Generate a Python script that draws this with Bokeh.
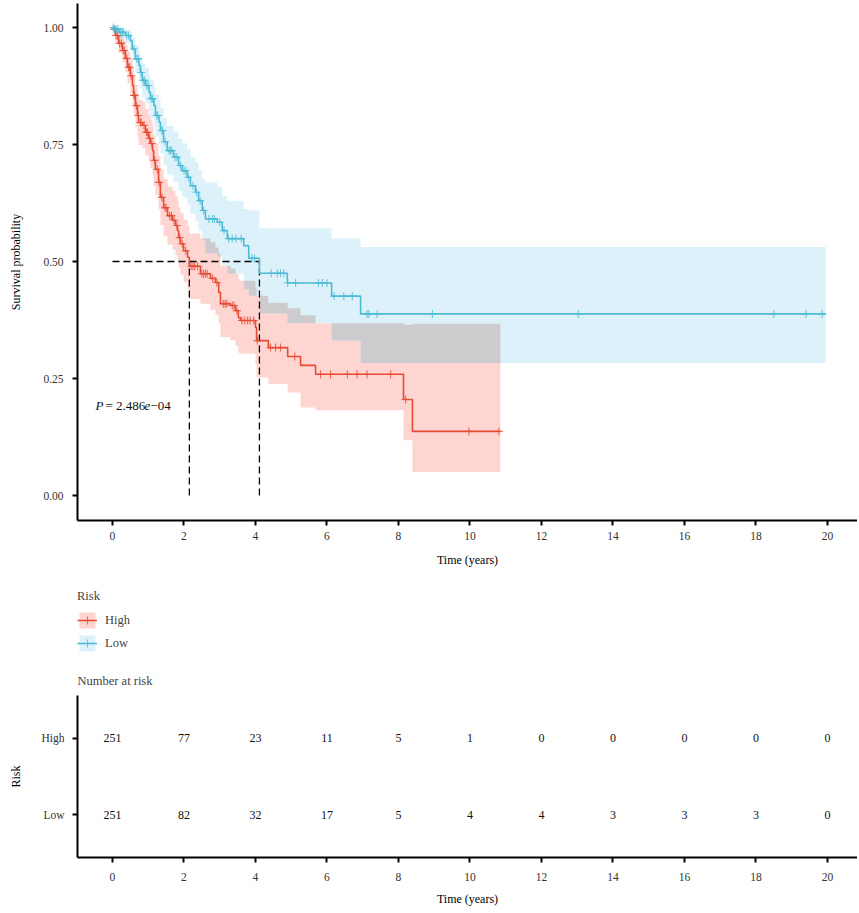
import numpy as np
from bokeh.plotting import figure
from bokeh.models import (Range1d, FactorRange, FixedTicker, PrintfTickFormatter,
                          Legend, LegendItem)
from bokeh.layouts import column
from bokeh.embed import file_html
from bokeh.resources import INLINE
from bokeh.core.properties import value

FONT = "Liberation Serif"

# ---------------- data ----------------
high_time = [0.00, 0.03, 0.08, 0.17, 0.28, 0.36, 0.42, 0.50, 0.56, 0.59, 0.64, 0.70, 0.73, 0.84,
             0.92, 1.01, 1.06, 1.12, 1.15, 1.20, 1.29, 1.34, 1.43, 1.54, 1.68, 1.76, 1.82, 1.85,
             1.90, 1.99, 2.10, 2.15, 2.46, 2.74, 2.88, 2.97, 3.02, 3.30, 3.44, 3.52, 3.58, 4.00,
             4.03, 4.36, 4.90, 5.26, 5.68, 8.14, 8.39]
high_surv = [1.000, 0.996, 0.983, 0.966, 0.951, 0.934, 0.915, 0.897, 0.876, 0.855, 0.833, 0.812,
             0.797, 0.791, 0.776, 0.763, 0.752, 0.737, 0.716, 0.697, 0.669, 0.637, 0.615, 0.598,
             0.588, 0.577, 0.566, 0.551, 0.538, 0.523, 0.509, 0.490, 0.474, 0.464, 0.455, 0.434,
             0.410, 0.406, 0.395, 0.380, 0.374, 0.359, 0.331, 0.316, 0.297, 0.278, 0.259, 0.205,
             0.137]
high_upper = [1.000, 1.000, 0.998, 0.987, 0.976, 0.963, 0.948, 0.934, 0.916, 0.898, 0.878, 0.859,
              0.845, 0.840, 0.826, 0.814, 0.804, 0.790, 0.770, 0.752, 0.726, 0.696, 0.676, 0.660,
              0.651, 0.640, 0.630, 0.616, 0.604, 0.590, 0.577, 0.560, 0.549, 0.541, 0.530, 0.517,
              0.491, 0.485, 0.474, 0.462, 0.459, 0.445, 0.427, 0.412, 0.400, 0.385, 0.368, 0.365,
              0.367]
high_lower = [1.000, 0.988, 0.968, 0.945, 0.926, 0.905, 0.882, 0.860, 0.836, 0.812, 0.788, 0.765,
              0.749, 0.742, 0.726, 0.712, 0.700, 0.684, 0.662, 0.642, 0.612, 0.578, 0.554, 0.536,
              0.525, 0.514, 0.502, 0.486, 0.472, 0.456, 0.441, 0.420, 0.410, 0.396, 0.385, 0.368,
              0.338, 0.332, 0.320, 0.305, 0.303, 0.280, 0.252, 0.238, 0.220, 0.188, 0.182, 0.118,
              0.050]
high_end = 10.85
high_censor = [0.05, 0.10, 0.14, 0.20, 0.25, 0.30, 0.33, 0.40, 0.45, 0.48, 0.52, 0.60, 0.62, 0.67,
               0.72, 0.78, 0.80, 0.88, 0.95, 0.98, 1.04, 1.10, 1.18, 1.25, 1.30, 1.38, 1.47, 1.50,
               1.60, 1.65, 1.72, 1.80, 1.88, 1.95, 2.05, 2.20, 2.25, 2.30, 2.38, 2.50, 2.55, 2.60,
               2.65, 2.80, 2.92, 3.10, 3.15, 3.20, 3.35, 3.40, 3.48, 3.62, 3.70, 3.78, 3.85, 3.95,
               4.05, 4.42, 4.56, 4.70, 5.10, 5.82, 6.10, 6.57, 6.84, 7.12, 7.78, 8.20, 9.97, 10.81]

low_time = [0.00, 0.04, 0.18, 0.36, 0.50, 0.55, 0.64, 0.74, 0.78, 0.83, 0.92, 1.02, 1.06, 1.16,
            1.20, 1.30, 1.34, 1.43, 1.53, 1.71, 1.85, 1.95, 2.09, 2.18, 2.32, 2.41, 2.51, 2.60,
            2.93, 3.07, 3.21, 3.67, 3.81, 4.11, 4.89, 6.13, 6.94]
low_surv = [1.000, 0.997, 0.990, 0.983, 0.972, 0.954, 0.933, 0.919, 0.904, 0.887, 0.876, 0.862,
            0.848, 0.833, 0.812, 0.798, 0.780, 0.756, 0.737, 0.723, 0.705, 0.694, 0.680, 0.662,
            0.648, 0.630, 0.609, 0.591, 0.584, 0.566, 0.549, 0.534, 0.507, 0.475, 0.454, 0.426,
            0.388]
low_upper = [1.000, 1.000, 1.000, 0.996, 0.990, 0.978, 0.962, 0.950, 0.937, 0.923, 0.913, 0.901,
             0.889, 0.876, 0.857, 0.845, 0.828, 0.807, 0.790, 0.778, 0.762, 0.752, 0.740, 0.724,
             0.712, 0.695, 0.676, 0.669, 0.660, 0.640, 0.630, 0.612, 0.609, 0.571, 0.571, 0.549,
             0.531]
low_lower = [1.000, 0.990, 0.977, 0.966, 0.951, 0.930, 0.904, 0.888, 0.870, 0.851, 0.838, 0.822,
             0.806, 0.790, 0.767, 0.751, 0.732, 0.706, 0.686, 0.670, 0.650, 0.638, 0.622, 0.602,
             0.586, 0.566, 0.545, 0.517, 0.510, 0.492, 0.474, 0.440, 0.427, 0.389, 0.368, 0.331,
             0.283]
low_end = 19.95
low_censor = [0.02, 0.06, 0.10, 0.15, 0.22, 0.27, 0.30, 0.40, 0.45, 0.60, 0.68, 0.72, 0.80, 0.86,
              0.90, 0.96, 1.00, 1.08, 1.12, 1.24, 1.27, 1.38, 1.40, 1.47, 1.58, 1.62, 1.66, 1.75,
              1.80, 1.90, 2.00, 2.05, 2.12, 2.25, 2.35, 2.45, 2.55, 2.70, 2.80, 2.85, 3.00, 3.12,
              3.25, 3.35, 3.45, 3.60, 3.90, 3.97, 4.44, 4.61, 4.70, 4.79, 4.90, 5.12, 5.76, 5.87,
              6.00, 6.20, 6.47, 6.71, 7.12, 7.17, 7.40, 8.95, 13.03, 18.50, 19.40, 19.85]

risk_groups = ["High", "Low"]
risk_times = [0, 2, 4, 6, 8, 10, 12, 14, 16, 18, 20]
high_risk = [251, 77, 23, 11, 5, 1, 0, 0, 0, 0, 0]
low_risk = [251, 82, 32, 17, 5, 4, 4, 3, 3, 3, 0]
surv_ticks = [0.00, 0.25, 0.50, 0.75, 1.00]
p_value_parts = ["P", "= 2.486", "e", "\u221204"]

RED = "#E64B35"
BLUE = "#4DBBD5"
PINK = "#FFD5D1"
LBLUE = "#DDF1FA"
GREY = "#CDCBCE"
TXT = "#333333"


def step_xy(t, y, t_end):
    t = np.asarray(t, float)
    y = np.asarray(y, float)
    xs = np.repeat(np.append(t, t_end), 2)[1:-1]
    ys = np.repeat(y, 2)
    return xs, ys


def step_at(t, y, q):
    t = np.asarray(t, float)
    y = np.asarray(y, float)
    idx = np.searchsorted(t, np.asarray(q, float), side="right") - 1
    return y[idx]


def style_axes(fig):
    for ax in (fig.xaxis, fig.yaxis):
        ax.axis_line_width = 2
        ax.axis_line_color = "black"
        ax.major_tick_line_width = 2
        ax.major_tick_line_color = "black"
        ax.major_tick_out = 5
        ax.major_tick_in = 0
        ax.minor_tick_line_color = None
        ax.major_label_text_font = FONT
        ax.major_label_text_font_size = "11.5px"
        ax.major_label_text_color = TXT
        ax.major_label_standoff = 6
        ax.axis_label_text_font = FONT
        ax.axis_label_text_font_size = "12px"
        ax.axis_label_text_font_style = "normal"
        ax.axis_label_text_color = "black"


def draw_group(fig, time, surv, lower, upper, t_end, censor, col, fill):
    xs, lo = step_xy(time, lower, t_end)
    _, up = step_xy(time, upper, t_end)
    band = fig.varea(x=xs, y1=lo, y2=up, fill_color=fill, fill_alpha=1.0)
    xs, ys = step_xy(time, surv, t_end)
    line = fig.line(xs, ys, line_color=col, line_width=1.6)
    marks = fig.scatter(censor, step_at(time, surv, censor), marker="cross", size=8,
                        line_color=col, line_alpha=0.8, line_width=1.1)
    return band, line, marks


LEFT = 77
WIDTH = 857
x_range = Range1d(-0.979, -0.979 + (WIDTH - LEFT) / 35.75)

# ---------------- main KM plot ----------------
p = figure(width=WIDTH, height=575, x_range=x_range, y_range=Range1d(-0.0534, 1.0513),
           output_backend="svg", toolbar_location=None,
           min_border_left=LEFT, min_border_right=0, min_border_top=3, min_border_bottom=55)
p.outline_line_color = None
p.grid.visible = False

band_h, line_h, cen_h = draw_group(p, high_time, high_surv, high_lower, high_upper, high_end,
                                   high_censor, RED, PINK)
band_l, line_l, cen_l = draw_group(p, low_time, low_surv, low_lower, low_upper, low_end,
                                   low_censor, BLUE, LBLUE)

lt = np.asarray(low_time)
grid = np.unique(np.concatenate([high_time, lt[lt < high_end]]))
ov_lo = np.maximum(step_at(high_time, high_lower, grid), step_at(low_time, low_lower, grid))
ov_up = np.minimum(step_at(high_time, high_upper, grid), step_at(low_time, low_upper, grid))
ov_up = np.where(ov_up > ov_lo, ov_up, ov_lo)
xs, lo = step_xy(grid, ov_lo, high_end)
_, up = step_xy(grid, ov_up, high_end)
ov = p.varea(x=xs, y1=lo, y2=up, fill_color=GREY, fill_alpha=1.0)

med_h = high_time[int(np.argmax(np.asarray(high_surv) <= 0.5))]
med_l = low_time[int(np.argmax(np.asarray(low_surv) <= 0.5))]
dash = [p.line([0, max(med_h, med_l)], [0.5, 0.5], line_color="black", line_dash="7 4",
               line_width=1.3)]
for m in (med_h, med_l):
    dash.append(p.line([m, m], [0, 0.5], line_color="black", line_dash="7 4", line_width=1.3))

others = [r for r in p.renderers if r not in (band_h, band_l, ov, *dash)]
p.renderers = [band_h, band_l, ov] + dash + others

p_offsets = [0, 10, 49, 55]
p_styles = ["italic", "normal", "italic", "normal"]
for part, off, sty in zip(p_value_parts, p_offsets, p_styles):
    p.text(x=[-0.476], y=[0.192], text=[part], x_offset=off, text_font=value(FONT),
           text_font_size="13px", text_font_style=sty, text_color="#111111",
           text_baseline="middle", text_align="left")

p.xaxis.ticker = FixedTicker(ticks=risk_times)
p.yaxis.ticker = FixedTicker(ticks=surv_ticks)
p.yaxis.formatter = PrintfTickFormatter(format="%.2f")
p.xaxis.axis_label = "Time (years)"
p.yaxis.axis_label = "Survival probability"
style_axes(p)
p.yaxis.major_label_standoff = 9
p.yaxis.axis_label_standoff = 17
p.xaxis.axis_label_standoff = 10

# ---------------- legend strip (its data lie outside the visible range) ----------------
lg = figure(width=WIDTH, height=84, x_range=x_range, y_range=Range1d(2, 3),
            output_backend="svg", toolbar_location=None,
            min_border_left=LEFT, min_border_right=0, min_border_top=14, min_border_bottom=0)
lg.outline_line_color = None
lg.grid.visible = False
lg.axis.visible = False
lg_h = draw_group(lg, high_time, high_surv, high_lower, high_upper, high_end, high_censor,
                  RED, PINK)
lg_l = draw_group(lg, low_time, low_surv, low_lower, low_upper, low_end, low_censor,
                  BLUE, LBLUE)
legend = Legend(items=[LegendItem(label=risk_groups[0], renderers=list(lg_h)),
                       LegendItem(label=risk_groups[1], renderers=list(lg_l))],
                title="Risk", orientation="vertical", location="top_left")
legend.title_text_font = FONT
legend.title_text_font_size = "12.5px"
legend.title_text_font_style = "normal"
legend.title_standoff = 6
legend.label_text_font = FONT
legend.label_text_font_size = "12.5px"
legend.glyph_width = 20
legend.glyph_height = 20
legend.label_standoff = 8
legend.spacing = 3
legend.padding = 0
legend.margin = 0
legend.border_line_color = None
legend.background_fill_alpha = 0
lg.add_layout(legend)

# ---------------- risk table ----------------
t = figure(width=WIDTH, height=250, x_range=x_range,
           y_range=FactorRange(factors=risk_groups[::-1], range_padding=0.055),
           output_backend="svg", toolbar_location=None, title="Number at risk",
           min_border_left=LEFT, min_border_right=0, min_border_top=36, min_border_bottom=52)
t.outline_line_color = None
t.grid.visible = False
t.title.text_font = FONT
t.title.text_font_size = "12.5px"
t.title.text_font_style = "normal"
t.title.align = "left"
t.title.standoff = 15
t.text(x=risk_times, y=[risk_groups[0]] * len(risk_times), text=[str(v) for v in high_risk],
       text_font=value(FONT), text_font_size="12px", text_color="#111111",
       text_align="center", text_baseline="middle")
t.text(x=risk_times, y=[risk_groups[1]] * len(risk_times), text=[str(v) for v in low_risk],
       text_font=value(FONT), text_font_size="12px", text_color="#111111",
       text_align="center", text_baseline="middle")
t.xaxis.ticker = FixedTicker(ticks=risk_times)
t.xaxis.axis_label = "Time (years)"
t.yaxis.axis_label = "Risk"
style_axes(t)
t.xaxis.major_label_standoff = 10
t.yaxis.major_label_standoff = 8
t.yaxis.axis_label_standoff = 16
t.xaxis.axis_label_standoff = 8

layout = column(p, lg, t)
open("out.html", "w").write(file_html(layout, INLINE))
